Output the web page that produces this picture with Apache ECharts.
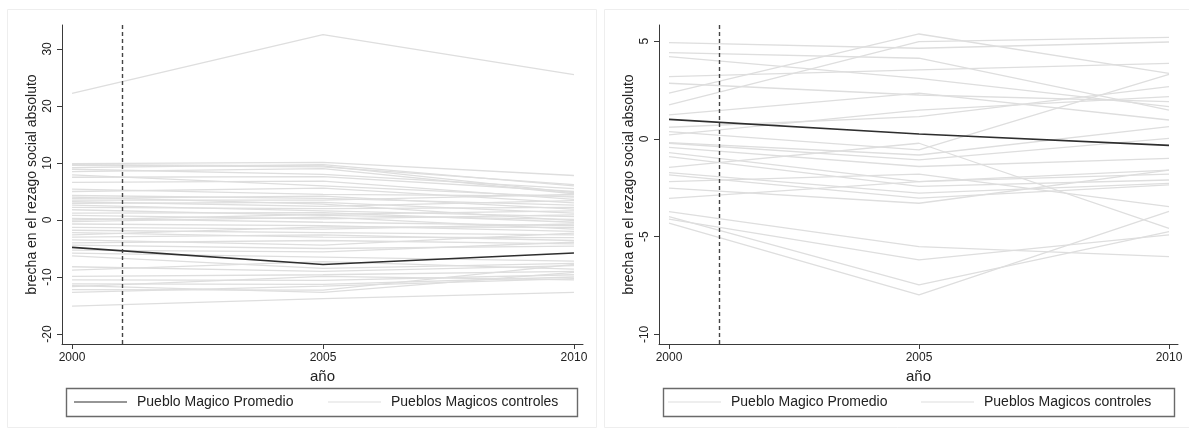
<!DOCTYPE html>
<html><head><meta charset="utf-8">
<script src="https://cdn.jsdelivr.net/npm/echarts@6/dist/echarts.min.js"></script>
<style>html,body{margin:0;padding:0;background:#fff}#c{width:1189px;height:430px}</style>
</head><body><div id="c"></div>
<script>
const years = [2000, 2005, 2010];
const xTicks = [2000, 2005, 2010];
const leftYTicks = [-20, -10, 0, 10, 20, 30];
const rightYTicks = [-10, -5, 0, 5];
const treatYear = 2001;
const yTitle = 'brecha en el rezago social absoluto';
const xTitle = 'año';
const nameAvg = 'Pueblo Magico Promedio';
const nameCtrl = 'Pueblos Magicos controles';

// Left panel
const leftAvg = [-4.8, -7.8, -5.8];
const leftControls = [
  [22.2, 32.5, 25.5],
  [9.9, 10.1, 7.8], [9.7, 9.5, 4.8], [9.6, 9.3, 6.2], [9.2, 9.7, 6.0],
  [8.9, 8.0, 5.5], [8.5, 9.0, 4.6], [7.9, 6.0, 4.0], [7.5, 7.6, 5.0],
  [6.6, 6.8, 3.6], [5.4, 4.5, 4.2], [5.0, 5.6, 3.0], [4.3, 3.8, 2.6],
  [4.0, 2.8, -0.1], [3.8, 4.2, 1.9], [3.5, 3.5, 4.5], [3.2, 2.4, 3.4],
  [2.9, 3.1, 1.2], [2.6, 1.6, 0.6], [2.2, 2.0, 2.2], [1.8, 0.8, 0.1],
  [1.2, 1.3, -0.4], [0.8, 0.2, 0.9], [0.3, -0.4, -1.0], [0.0, 1.0, 1.6],
  [-0.3, 0.5, -1.6], [-0.7, -1.0, -2.0], [-1.3, -1.6, -0.7], [-1.8, -2.2, -2.6],
  [-2.2, -3.0, -3.1], [-2.6, -1.2, -1.3], [-3.0, -2.6, -3.6], [-3.5, -4.4, -2.3],
  [-4.0, -3.6, -4.2], [-4.4, -5.0, -4.6], [-5.3, -5.6, -3.9], [-5.8, -6.5, -7.2],
  [-6.3, -8.5, -7.6], [-8.2, -9.0, -8.0], [-8.8, -7.3, -8.6], [-9.9, -9.6, -9.0],
  [-10.5, -10.6, -9.6], [-11.2, -11.3, -10.0], [-11.5, -12.7, -9.2], [-11.7, -9.9, -10.5],
  [-12.2, -12.3, -7.8], [-12.7, -11.6, -10.3], [-15.1, -13.8, -12.7]
];

// Right panel
const rightAvg = [1.0, 0.25, -0.33];
const rightControls = [
  [4.93, 4.64, 4.96], [4.42, 4.13, 1.48], [4.21, 3.10, 1.65], [2.34, 5.37, 3.36],
  [1.74, 4.98, 5.20], [3.19, 3.53, 3.87], [2.85, 2.25, 1.91], [1.23, 2.34, 0.97],
  [0.60, 1.14, 2.68], [0.38, -0.56, 3.30], [0.21, 1.48, 2.17], [-0.19, -0.82, 0.63],
  [-0.22, -1.07, 0.03], [-0.43, -1.41, -0.99], [-0.70, -2.18, -1.59], [-0.90, -2.43, -2.10],
  [-1.45, -0.22, -4.57], [-1.72, -2.77, -2.27], [-1.84, -3.03, -2.35], [-2.18, -1.80, -3.46],
  [-2.52, -3.29, -1.59], [-3.04, -2.18, -1.80], [-3.72, -5.51, -6.02], [-3.97, -7.47, -4.74],
  [-4.31, -7.98, -3.70], [-4.10, -6.19, -4.91]
];

const FONT = 'Liberation Sans, Arial, sans-serif';
const AX = '#3a3a3a';
const CTRL_C = '#dedede';
const AVG_C = '#2e2e2e';

function pts(vals) { return years.map((y, i) => [y, vals[i]]); }

function xAxis(gi) {
  return {
    type: 'value', gridIndex: gi, min: 1999.8, max: 2010.18,
    name: xTitle, nameLocation: 'middle', nameGap: 24,
    nameTextStyle: { fontFamily: FONT, fontSize: 15, color: '#222' },
    axisLine: { show: true, onZero: false, lineStyle: { color: AX, width: 1 } },
    axisTick: { show: true, length: 5, customValues: xTicks, lineStyle: { color: AX } },
    axisLabel: { customValues: xTicks, formatter: v => String(v), fontFamily: FONT, fontSize: 12, color: '#222', margin: 8 },
    splitLine: { show: false }
  };
}
function yAxis(gi, min, max, ticks) {
  return {
    type: 'value', gridIndex: gi, min: min, max: max,
    name: yTitle, nameLocation: 'middle', nameGap: 23,
    nameTextStyle: { fontFamily: FONT, fontSize: 14, color: '#222' },
    axisLine: { show: true, onZero: false, lineStyle: { color: AX, width: 1 } },
    axisTick: { show: true, length: 5, customValues: ticks, lineStyle: { color: AX } },
    axisLabel: { customValues: ticks, formatter: v => String(v), rotate: 90, fontFamily: FONT, fontSize: 12, color: '#222', margin: 8 },
    splitLine: { show: false }
  };
}

const series = [];
function addPanel(gi, controls, avg) {
  controls.forEach((c) => {
    series.push({
      type: 'line', name: nameCtrl, xAxisIndex: gi, yAxisIndex: gi,
      data: pts(c), symbol: 'none', silent: true, z: 2,
      lineStyle: { color: CTRL_C, width: 1.3 }, itemStyle: { color: CTRL_C }
    });
  });
  series.push({
    type: 'line', name: nameAvg, xAxisIndex: gi, yAxisIndex: gi,
    data: pts(avg), symbol: 'none', silent: true, z: 4,
    lineStyle: { color: AVG_C, width: 1.6 }, itemStyle: { color: AVG_C },
    markLine: {
      silent: true, symbol: 'none', label: { show: false },
      lineStyle: { type: [4, 3], color: '#444', width: 1.4 },
      data: [{ xAxis: treatYear }]
    }
  });
}
addPanel(0, leftControls, leftAvg);
addPanel(1, rightControls, rightAvg);

function legend(left, name, color) {
  return {
    left: left, top: 395, orient: 'horizontal', itemWidth: 53, itemHeight: 12,
    selectedMode: false, padding: 0,
    textStyle: { fontFamily: FONT, fontSize: 14, color: '#222', padding: [0, 0, 0, 5] },
    data: [{ name: name, icon: 'path://M0,0L53,0L53,1.2L0,1.2Z', itemStyle: { color: color } }]
  };
}

const option = {
  backgroundColor: '#fff',
  animation: false,
  grid: [
    { left: 62, top: 25, width: 521, height: 319 },
    { left: 659, top: 25, width: 519, height: 319 }
  ],
  xAxis: [xAxis(0), xAxis(1)],
  yAxis: [yAxis(0, -21.75, 34.2, leftYTicks), yAxis(1, -10.49, 5.83, rightYTicks)],
  legend: [
    legend(74, nameAvg, AVG_C), legend(328, nameCtrl, CTRL_C),
    legend(668, nameAvg, CTRL_C), legend(921, nameCtrl, CTRL_C)
  ],
  graphic: [
    { type: 'rect', shape: { x: 7.5, y: 9.5, width: 589, height: 418 }, style: { fill: 'none', stroke: '#eeeeee', lineWidth: 1 }, silent: true, z: -1 },
    { type: 'rect', shape: { x: 604.5, y: 9.5, width: 590, height: 418 }, style: { fill: 'none', stroke: '#eeeeee', lineWidth: 1 }, silent: true, z: -1 },
    { type: 'rect', shape: { x: 66.5, y: 388.5, width: 511, height: 28 }, style: { fill: 'none', stroke: '#6a6a6a', lineWidth: 1.4 }, silent: true },
    { type: 'rect', shape: { x: 663.5, y: 388.5, width: 511, height: 28 }, style: { fill: 'none', stroke: '#6a6a6a', lineWidth: 1.4 }, silent: true }
  ],
  series: series
};
const chart = echarts.init(document.getElementById('c'), null, { renderer: 'canvas' });
chart.setOption(option);
</script></body></html>
